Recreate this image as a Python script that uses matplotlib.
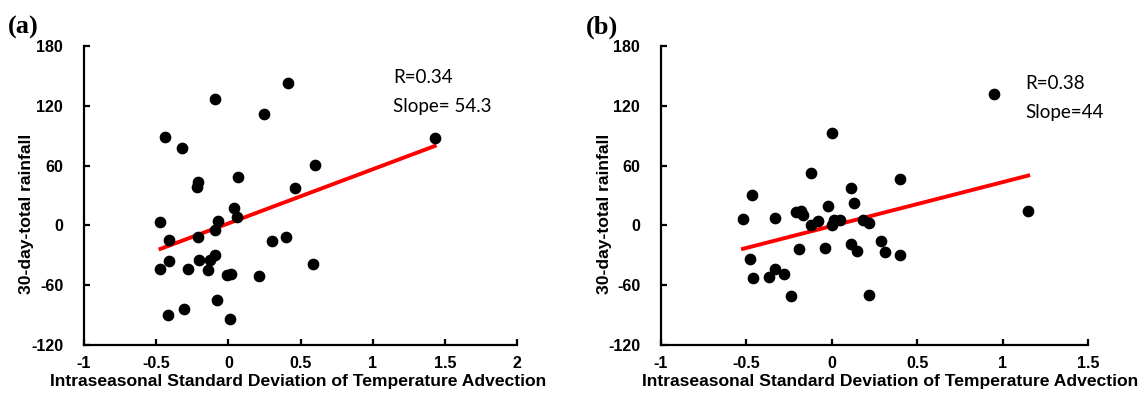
import matplotlib.pyplot as plt
import numpy as np

# panel (a) values
xa = [0.41, -0.09, 0.25, -0.44, -0.32, 1.43, 0.60, 0.07, -0.21, -0.22, 0.46, 0.04,
      0.06, -0.47, -0.07, -0.09, -0.41, -0.21, 0.30, 0.40, -0.41, -0.20, -0.09,
      -0.13, -0.47, -0.28, -0.14, 0.59, -0.01, 0.02, 0.21, -0.08, -0.42, -0.31, 0.01]
ya = [143, 127, 112, 89, 78, 88, 61, 49, 44, 39, 38, 17,
      8, 3, 4, -5, -15, -12, -16, -12, -36, -35, -30,
      -35, -44, -44, -45, -39, -50, -49, -51, -75, -90, -84, -94]
slope_a, icpt_a, r_a = 54.3, 2.0, 0.34

# panel (b) values
xb = [0.95, 0.00, -0.12, 0.40, 0.11, -0.47, 0.13, -0.02, -0.21, -0.18, -0.17, 1.15,
      -0.52, -0.33, -0.08, -0.12, 0.01, 0.00, 0.05, 0.18, 0.22, 0.29, 0.11, 0.15,
      0.31, 0.40, -0.04, -0.19, -0.48, -0.33, -0.28, -0.37, -0.46, -0.24, 0.22]
yb = [132, 93, 53, 47, 38, 31, 22, 19, 13, 14, 10, 14,
      6, 7, 4, 0, 5, 0, 5, 5, 2, -16, -19, -26,
      -27, -30, -23, -24, -34, -44, -49, -52, -53, -71, -70]
slope_b, icpt_b, r_b = 44, -0.6, 0.38

yticks = [-120, -60, 0, 60, 120, 180]
xlabel = "Intraseasonal Standard Deviation of Temperature Advection"
ylabel = "30-day-total rainfall"

fig = plt.figure(figsize=(11.48, 3.99), dpi=100)
ax1 = fig.add_axes([84/1148, 54/399, 433/1148, 299/399])
ax2 = fig.add_axes([661/1148, 54/399, 427/1148, 299/399])

tickfont = dict(family="Liberation Sans", weight="bold", size=11.5)
labfont = dict(family="Liberation Sans", weight="bold", size=12.6)


def panel(ax, x, y, slope, icpt, xlim, xticks, letter, txt, txt_pos, xlab_x):
	ax.scatter(x, y, s=55, color="black", zorder=3)
	xl = np.array([min(x), max(x)])
	ax.plot(xl, slope*xl + icpt, color="red", lw=2.8, zorder=2)
	ax.set_xlim(xlim)
	ax.set_ylim(-120, 180)
	ax.set_xticks(xticks)
	ax.set_yticks(yticks)
	ax.set_xticklabels([f"{t:g}" for t in xticks], fontdict=tickfont)
	ax.set_yticklabels([str(t) for t in yticks], fontdict=tickfont)
	for s in ["top", "right"]:
		ax.spines[s].set_visible(False)
	for s in ["left", "bottom"]:
		ax.spines[s].set_linewidth(1.6)
	ax.tick_params(direction="in", length=4, width=1.6)
	ax.tick_params(axis="y", pad=15)
	ax.tick_params(axis="x", pad=8)
	ax.set_xlabel(xlabel, fontdict=labfont)
	ax.set_ylabel(ylabel, fontdict=labfont)
	bw = ax.get_position().width * 1148
	ax.xaxis.set_label_coords(xlab_x, -0.096, transform=ax.transAxes)
	ax.yaxis.set_label_coords(-57 / bw, 0.44)
	ax.xaxis.label.set_va("top")
	ax.yaxis.label.set_va("center")
	ax.text(txt_pos[0], txt_pos[1], txt, family="Lato", size=13.5, va="center",
		linespacing=1.9)
	ax.text(-0.175, 1.025, letter, transform=ax.transAxes, family="Liberation Serif",
		weight="bold", size=19, va="bottom")


panel(ax1, xa, ya, slope_a, icpt_a, (-1, 2), [-1, -0.5, 0, 0.5, 1, 1.5, 2], "(a)",
	f"R={r_a}\nSlope= {slope_a}", (1.14, 134), 0.495)
panel(ax2, xb, yb, slope_b, icpt_b, (-1, 1.5), [-1, -0.5, 0, 0.5, 1, 1.5], "(b)",
	f"R={r_b}\nSlope={slope_b}", (1.135, 128), 0.536)

fig.savefig("out.png", dpi=100)
